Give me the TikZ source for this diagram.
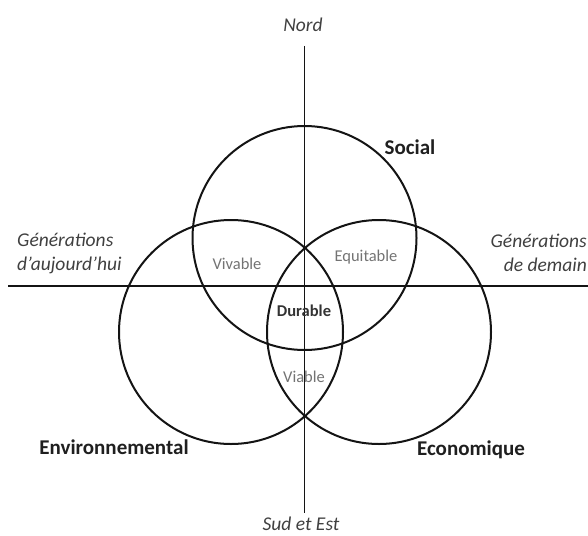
\documentclass[tikz,border=0pt]{standalone}
\usepackage{fontspec}
\setmainfont{Carlito}
\begin{document}
\begin{tikzpicture}[x=1pt,y=-1pt,
  ring/.style={circle,draw=black!92,line width=2pt,minimum size=224pt,inner sep=0pt},
  axis/.style={draw=black!92,line width=1.9pt},
  axlabel/.style={inner sep=0pt,text=black!75,font=\fontsize{19.5}{24}\selectfont\itshape},
  dimlabel/.style={inner sep=0pt,text=black!88,font=\fontsize{21}{24}\selectfont\bfseries},
  zone/.style={inner sep=0pt,text=black!55,font=\fontsize{16.5}{20}\selectfont},
  core/.style={inner sep=0pt,text=black!80,font=\fontsize{16.5}{20}\selectfont\bfseries}]
\useasboundingbox (0,0) rectangle (588,535);
% axes
\coordinate (N) at (304.5,46);
\coordinate (S) at (304.5,513);
\coordinate (W) at (8,286);
\coordinate (E) at (588,286);
\draw[axis] (N) -- (S);
\draw[axis] (W) -- (E);
% circles
\node[ring] (soc) at (304.5,238) {};
\node[ring] (env) at (231,332) {};
\node[ring] (eco) at (379,332) {};
% axis labels
\node[axlabel] (nord) at (303,25) {Nord};
\node[axlabel] (sud) at (301,524) {Sud et Est};
\node[axlabel,anchor=west,align=left] (gauche) at (17,253) {Générations\\d’aujourd’hui};
\node[axlabel,anchor=east,align=right] (droite) at (587,253) {Générations\\de demain};
% dimension labels
\node[dimlabel] (lsoc) at (410,147) {Social};
\node[dimlabel] (lenv) at (114,447) {Environnemental};
\node[dimlabel] (leco) at (471,450) {Economique};
% zones
\node[zone] (viv) at (237,264) {Vivable};
\node[zone] (equ) at (366,257) {Equitable};
\node[core] (dur) at (304,311) {Durable};
\node[zone] (via) at (304,377) {Viable};
\end{tikzpicture}
\end{document}
